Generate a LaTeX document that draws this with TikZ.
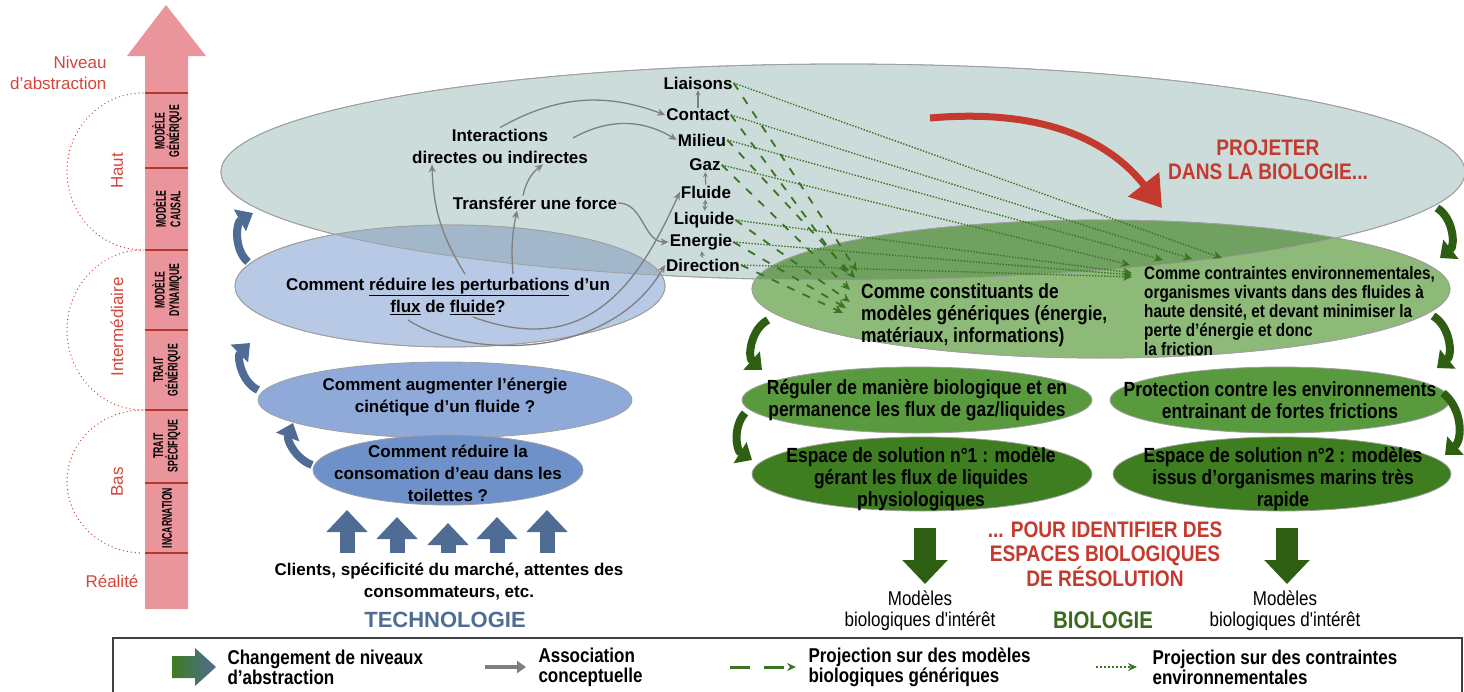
\documentclass[tikz,border=0pt]{standalone}
\usepackage{fontspec}
\setmainfont{Liberation Sans}
\newfontfamily\narrowfont{Liberation Sans}[FakeStretch=0.85]
\newfontfamily\tallfont{Liberation Sans}[FakeStretch=0.62]
\usepackage{tikz}
\usetikzlibrary{positioning}
\usetikzlibrary{shapes.geometric}
\usetikzlibrary{arrows.meta}
\definecolor{greyell}{HTML}{CCDCDB}
\definecolor{blueA}{HTML}{B8C9E6}
\definecolor{blueAB}{HTML}{A3B7CA}
\definecolor{blueB}{HTML}{8FAAD9}
\definecolor{blueC}{HTML}{6F91C9}
\definecolor{techblue}{HTML}{4F6C94}
\definecolor{greenA}{HTML}{8EBA79}
\definecolor{greenAB}{HTML}{71A161}
\definecolor{greenB}{HTML}{5A9A3E}
\definecolor{greenC}{HTML}{3E7D20}
\definecolor{greendark}{HTML}{2D5E12}
\definecolor{projgreen}{HTML}{3A7420}
\definecolor{biogreen}{HTML}{3A6A1C}
\definecolor{projred}{HTML}{C53A2E}
\definecolor{labred}{HTML}{D2463C}
\definecolor{axispink}{HTML}{E9959B}
\definecolor{axisred}{HTML}{B3372D}
\definecolor{assocgrey}{HTML}{7F7F7F}
\tikzset{ell/.style={ellipse, draw=gray!75, line width=0.8pt, inner sep=0pt}, ellborder/.style={draw=gray!75, line width=0.8pt}}

\begin{document}
\begin{tikzpicture}[
    x=1pt, y=1pt,
    txt/.style={font=\bfseries\fontsize{17}{22}\selectfont, align=center, inner sep=1pt},
    word/.style={font=\bfseries\fontsize{17}{20}\selectfont, inner sep=1pt},
    gtxt/.style={font=\narrowfont\bfseries\fontsize{20.5}{22}\selectfont, align=center, inner sep=1pt},
    rtxt/.style={font=\narrowfont\bfseries\fontsize{22.5}{24}\selectfont, text=projred, align=center},
    legtxt/.style={font=\narrowfont\bfseries\fontsize{20}{20}\selectfont, align=left, anchor=west},
    lvl/.style={font=\tallfont\bfseries\fontsize{14}{14.5}\selectfont, align=center, rotate=90, inner sep=0pt},
    axlab/.style={font=\fontsize{17}{21}\selectfont, text=labred},
    assoc/.style={draw=assocgrey, line width=1.3pt, -{Stealth[length=8pt,width=7pt]}},
    small/.style={draw=assocgrey, line width=1.3pt, -{Stealth[length=5pt,width=5pt]}},
    dashproj/.style={draw=projgreen, line width=1.8pt, dash pattern=on 8pt off 9pt, -{Stealth[length=9pt,width=8pt]}},
    dotproj/.style={draw=projgreen, line width=1.4pt, dash pattern=on 1.4pt off 1.6pt, -{Stealth[length=9pt,width=8pt]}},
    bluecurve/.style={draw=techblue, line width=8pt, -{Triangle[length=15pt,width=24pt]}},
    greencurve/.style={draw=greendark, line width=8pt, -{Triangle[length=14pt,width=24pt]}},
    uparrow/.style={draw=techblue, line width=15pt, -{Triangle[length=22pt,width=40pt]}},
    downarrow/.style={draw=greendark, line width=22pt, -{Triangle[length=24pt,width=44pt]}}
]
\useasboundingbox (0,0) rectangle (1464,-691);

% Abstraction axis
\fill[axispink] (145,-609) -- (145,-56) -- (127,-56) -- (166,-5) -- (206,-56) -- (188,-56) -- (188,-609) -- cycle;
\draw[axisred, line width=1.5pt] (145,-93) -- (188,-93);
\draw[axisred, line width=1.5pt] (145,-168) -- (188,-168);
\draw[axisred, line width=1.5pt] (145,-250) -- (188,-250);
\draw[axisred, line width=1.5pt] (145,-330) -- (188,-330);
\draw[axisred, line width=1.5pt] (145,-410) -- (188,-410);
\draw[axisred, line width=1.5pt] (145,-483) -- (188,-483);
\draw[axisred, line width=1.5pt] (145,-553) -- (188,-553);
\node[lvl] (lv1) at (167,-131) {MODÈLE\\GÉNÉRIQUE};
\node[lvl] (lv2) at (167,-209) {MODÈLE\\CAUSAL};
\node[lvl] (lv3) at (167,-290) {MODÈLE\\DYNAMIQUE};
\node[lvl] (lv4) at (167,-370) {TRAIT\\GÉNÉRIQUE};
\node[lvl] (lv5) at (167,-446) {TRAIT\\SPÉCIFIQUE};
\node[lvl] (lv6) at (167,-518) {INCARNATION};
\draw[labred, line width=1.4pt, dash pattern=on 0pt off 4pt, line cap=round] (143,-93) arc[start angle=90, end angle=270, x radius=76pt, y radius=78.5pt];
\draw[labred, line width=1.4pt, dash pattern=on 0pt off 4pt, line cap=round] (143,-250) arc[start angle=90, end angle=270, x radius=76pt, y radius=80pt];
\draw[labred, line width=1.4pt, dash pattern=on 0pt off 4pt, line cap=round] (143,-410) arc[start angle=90, end angle=270, x radius=76pt, y radius=71.5pt];
\node[axlab, anchor=east, align=right] (niveau) at (110,-73) {Niveau\\d’abstraction};
\node[axlab, rotate=90] (haut) at (117,-171) {Haut};
\node[axlab, rotate=90] (inter) at (117,-327) {Intermédiaire};
\node[axlab, rotate=90] (bas) at (117,-482) {Bas};
\node[axlab] (realite) at (112,-581) {Réalité};

% Ellipses
\node[ell, fill=greyell, minimum width=1244pt, minimum height=216pt] (topell) at (843,-172) {};
\node[ell, fill=blueA, minimum width=430pt, minimum height=122pt] (fluxell) at (450,-286) {};
\begin{scope}
  \clip (450,-286) ellipse [x radius=215pt, y radius=61pt];
  \fill[blueAB] (843,-172) ellipse [x radius=622pt, y radius=108pt];
\end{scope}
\node[ell, fill=greenA, minimum width=698pt, minimum height=138pt] (constell) at (1101,-289) {};
\begin{scope}
  \clip (1101,-289) ellipse [x radius=349pt, y radius=69pt];
  \fill[greenAB] (843,-172) ellipse [x radius=622pt, y radius=108pt];
\end{scope}
\draw[ellborder] (843,-172) ellipse [x radius=622pt, y radius=108pt];
\draw[ellborder] (450,-286) ellipse [x radius=215pt, y radius=61pt];
\draw[ellborder] (1101,-289) ellipse [x radius=349pt, y radius=69pt];
\node[ell, fill=blueB, minimum width=374pt, minimum height=76pt] (energyell) at (445,-400) {};
\node[ell, fill=blueC, minimum width=270pt, minimum height=70pt] (toiletell) at (448,-470) {};
\node[ell, fill=greenB, minimum width=350pt, minimum height=66pt] (regell) at (917,-400) {};
\node[ell, fill=greenB, minimum width=340pt, minimum height=66pt] (protell) at (1280,-400) {};
\node[ell, fill=greenC, minimum width=340pt, minimum height=74pt] (sol1ell) at (922,-474) {};
\node[ell, fill=greenC, minimum width=338pt, minimum height=74pt] (sol2ell) at (1282,-474) {};

% Texts
\node[txt] (fluxq) at (448,-296) {Comment \underline{réduire les perturbations} d’un\\\underline{flux} de \underline{fluide}?};
\node[txt] (energyq) at (445,-397) {Comment augmenter l'énergie\\cinétique d'un fluide ?};
\node[txt] (toiletq) at (448,-473) {Comment réduire la\\consomation d'eau dans les\\toilettes ?};
\node[txt] (interact) at (500,-146) {Interactions\\directes ou indirectes};
\node[txt] (force) at (535,-203) {Transférer une force};
\node[word] (liaisons) at (698,-83) {Liaisons};
\node[word] (contact) at (698,-115) {Contact};
\node[word] (milieu) at (702,-140) {Milieu};
\node[word] (gaz) at (705,-165) {Gaz};
\node[word] (fluide) at (706,-192) {Fluide};
\node[word] (liquide) at (704,-220) {Liquide};
\node[word] (energie) at (701,-242) {Energie};
\node[word] (direction) at (703,-265) {Direction};
\node[txt] (clients) at (449,-582) {Clients, spécificité du marché, attentes des\\consommateurs, etc.};
\node[font=\bfseries\fontsize{22}{24}\selectfont, text=techblue] (techno) at (445,-620) {TECHNOLOGIE};
\node[rtxt] (projeter) at (1268,-160) {PROJETER\\DANS LA BIOLOGIE...};
\node[gtxt, align=left, anchor=west] (constit) at (860,-315) {Comme constituants de\\modèles génériques (énergie,\\matériaux, informations)};
\node[font=\narrowfont\bfseries\fontsize{18}{19}\selectfont, align=left, anchor=west, inner sep=1pt] (contr) at (1143,-311) {Comme contraintes environnementales,\\organismes vivants dans des fluides à\\haute densité, et devant minimiser la\\perte d’énergie et donc\\la friction};
\node[gtxt] (reg) at (917,-400) {Réguler de manière biologique et en\\permanence les flux de gaz/liquides};
\node[gtxt] (prot) at (1280,-400) {Protection contre les environnements\\entrainant de fortes frictions};
\node[gtxt] (sol1) at (921,-479) {Espace de solution n°1 : modèle\\gérant les flux de liquides\\physiologiques};
\node[gtxt] (sol2) at (1283,-479) {Espace de solution n°2 : modèles\\issus d’organismes marins très\\rapide};
\node[rtxt] (pour) at (1105,-554) {... POUR IDENTIFIER DES\\ESPACES BIOLOGIQUES\\DE RÉSOLUTION};
\node[font=\narrowfont\fontsize{20}{21}\selectfont, align=center] (mod1) at (920,-611) {Modèles\\biologiques d'intérêt};
\node[font=\narrowfont\fontsize{20}{21}\selectfont, align=center] (mod2) at (1285,-611) {Modèles\\biologiques d'intérêt};
\node[font=\narrowfont\bfseries\fontsize{24}{26}\selectfont, text=biogreen] (bio) at (1103,-620) {BIOLOGIE};

% Conceptual associations
\draw[assoc] (interact.north) to[bend left=25] (contact.west);
\draw[assoc] ([xshift=-12pt]force.north) to[bend left=20] ([xshift=43pt]interact.south);
\draw[assoc] ([shift={(73,8)}]interact.center) to[bend left=30] (milieu.west);
\draw[assoc] (force.east) to[out=0, in=180] (energie.west);
\draw[assoc] ([shift={(17,22)}]fluxq.center) to[bend left=15] ([xshift=-68pt]interact.south);
\draw[assoc] ([shift={(65,22)}]fluxq.center) to[bend left=8] ([xshift=-18pt]force.south);
\draw[assoc] ([shift={(25,-21)}]fluxq.center) .. controls (590,-360) and (640,-280) .. (fluide.west);
\draw[assoc] ([shift={(-40,-24)}]fluxq.center) .. controls (470,-360) and (610,-360) .. (direction.west);
\draw[small] (contact) -- (liaisons);
\draw[small] (fluide) -- (gaz);
\draw[small, {Stealth[length=5pt,width=5pt]}-{Stealth[length=5pt,width=5pt]}] (fluide) -- (liquide);
\draw[small] (direction) -- (energie);

% Projections towards biology
\coordinate (dt1) at (1222,-258);
\coordinate (dt2) at (1192,-259);
\coordinate (dt3) at (1163,-260);
\coordinate (dt4) at (1130,-265);
\coordinate (dt5) at (1132,-273);
\coordinate (dt6) at (1132,-275);
\coordinate (dt7) at (1132,-277);
\coordinate (ds1) at (857,-271);
\coordinate (ds2) at (847,-273);
\coordinate (ds3) at (855,-278);
\coordinate (ds4) at (850,-290);
\coordinate (ds5) at (850,-302);
\coordinate (ds6) at (846,-308);
\coordinate (ds7) at (843,-313);
\draw[dotproj] (liaisons.east) -- (dt1);
\draw[dotproj] (contact.east) -- (dt2);
\draw[dotproj] (milieu.east) -- (dt3);
\draw[dotproj] (gaz.east) -- (dt4);
\draw[dotproj] (liquide.east) -- (dt5);
\draw[dotproj] (energie.east) -- (dt6);
\draw[dotproj] (direction.east) -- (dt7);
\draw[dashproj] (liaisons.east) -- (ds1);
\draw[dashproj] (contact.east) -- (ds2);
\draw[dashproj] (milieu.east) -- (ds3);
\draw[dashproj] (gaz.east) -- (ds4);
\draw[dashproj] (liquide.east) -- (ds5);
\draw[dashproj] (energie.east) -- (ds6);
\draw[dashproj] (direction.east) -- (ds7);

% Level changes
\coordinate (pj1) at (930,-118);
\coordinate (pj2) at (1162,-208);
\draw[draw=projred, line width=7pt, -{Triangle[length=30pt,width=38pt]}] (pj1) to[out=5, in=128] (pj2);
\coordinate (b1s) at (248,-262);
\coordinate (b1e) at (253,-213);
\coordinate (b2s) at (258,-390);
\coordinate (b2e) at (250,-343);
\coordinate (b3s) at (312,-465);
\coordinate (b3e) at (293,-423);
\draw[bluecurve] (b1s) to[bend left=55] (b1e);
\draw[bluecurve] (b2s) to[bend left=55] (b2e);
\draw[bluecurve] (b3s) to[bend left=45] (b3e);
\coordinate (g1s) at (1437,-208);
\coordinate (g1e) at (1440,-258);
\coordinate (g2s) at (1433,-316);
\coordinate (g2e) at (1437,-368);
\coordinate (g3s) at (1443,-393);
\coordinate (g3e) at (1445,-455);
\coordinate (g4s) at (768,-320);
\coordinate (g4e) at (762,-370);
\coordinate (g5s) at (745,-413);
\coordinate (g5e) at (752,-460);
\draw[greencurve] (g1s) to[bend left=55] (g1e);
\draw[greencurve] (g2s) to[bend left=55] (g2e);
\draw[greencurve] (g3s) to[bend left=50] (g3e);
\draw[greencurve] (g4s) to[bend right=55] (g4e);
\draw[greencurve] (g5s) to[bend right=50] (g5e);
\coordinate (u1a) at (347,-553);
\coordinate (u1b) at (347,-510);
\coordinate (u2a) at (397,-553);
\coordinate (u2b) at (397,-517);
\coordinate (u3a) at (448,-553);
\coordinate (u3b) at (448,-523);
\coordinate (u4a) at (497,-553);
\coordinate (u4b) at (497,-517);
\coordinate (u5a) at (547,-553);
\coordinate (u5b) at (547,-510);
\draw[uparrow] (u1a) -- (u1b);
\draw[uparrow] (u2a) -- (u2b);
\draw[uparrow] (u3a) -- (u3b);
\draw[uparrow] (u4a) -- (u4b);
\draw[uparrow] (u5a) -- (u5b);
\coordinate (d1a) at (925,-528);
\coordinate (d1b) at (925,-584);
\coordinate (d2a) at (1287,-528);
\coordinate (d2b) at (1287,-584);
\draw[downarrow] (d1a) -- (d1b);
\draw[downarrow] (d2a) -- (d2b);

% Legend
\draw[draw=gray!50!black, line width=1.5pt] (113,-638) rectangle (1462,-700);
\node[legtxt] (leg1) at (224,-667) {Changement de niveaux\\d’abstraction};
\node[legtxt] (leg2) at (535,-667) {Association\\conceptuelle};
\node[legtxt] (leg3) at (805,-667) {Projection sur des modèles\\biologiques génériques};
\node[legtxt] (leg4) at (1149,-667) {Projection sur des contraintes\\environnementales};
\shade[left color=greenC, right color=techblue] (172,-656) -- (195,-656) -- (195,-648) -- (216,-667) -- (195,-686) -- (195,-678) -- (172,-678) -- cycle;
\draw[assoc, line width=3.5pt, -{Triangle[length=9pt,width=12pt]}] ([xshift=-50pt]leg2.west) -- ([xshift=-9pt]leg2.west);
\draw[dashproj, line width=3pt, dash pattern=on 20pt off 14pt] ([xshift=-75pt]leg3.west) -- ([xshift=-9pt]leg3.west);
\draw[dotproj, line width=2pt, dash pattern=on 2pt off 2pt] ([xshift=-53pt]leg4.west) -- ([xshift=-12pt]leg4.west);

\end{tikzpicture}
\end{document}
